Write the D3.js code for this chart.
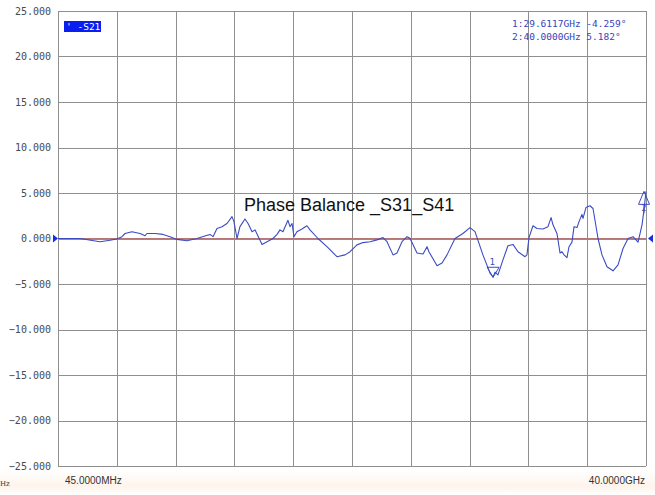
<!DOCTYPE html>
<html>
<head>
<meta charset="utf-8">
<script src="https://cdn.jsdelivr.net/npm/d3@7"></script>
<style>
    body { margin: 0; background: #fff; }
    svg { display: block; }
</style>
</head>
<body>
<div id="chart"></div>
<script>
// trace: frequency (GHz) and phase balance (deg)
const freqGHz = [0.045, 1.54, 2.90, 3.58, 4.05, 4.39, 4.60, 5.07, 5.62, 5.96, 6.09, 6.64, 7.18, 7.66, 8.13, 8.81,
    9.49, 10.03, 10.37, 10.58, 10.85, 11.19, 11.53, 11.87, 12.00, 12.21, 12.41, 12.75, 12.96, 13.23, 13.43, 13.91,
    14.25, 14.65, 14.93, 15.13, 15.33, 15.67, 15.81, 15.95, 16.08, 16.28, 16.62, 16.96, 17.17, 17.71, 18.32, 19.00,
    19.55, 19.89, 20.36, 20.77, 21.25, 21.72, 22.13, 22.40, 22.81, 23.08, 23.42, 23.76, 23.96, 24.44, 24.85, 25.12,
    25.25, 25.80, 26.14, 26.48, 27.02, 27.56, 28.04, 28.38, 28.92, 29.40, 29.61, 29.74, 29.94, 30.28, 30.62, 30.96,
    31.30, 31.78, 31.91, 32.05, 32.32, 32.59, 33.00, 33.34, 33.55, 33.68, 33.95, 34.16, 34.29, 34.43, 34.63, 34.77,
    34.97, 35.11, 35.31, 35.45, 35.65, 35.72, 35.92, 36.19, 36.40, 36.74, 37.01, 37.35, 37.76, 38.10, 38.44, 38.78,
    39.12, 39.46, 39.73, 39.86, 40.00];
const phaseDeg = [0, 0, -0.35, -0.2, -0.05, 0.2, 0.55, 0.75, 0.55, 0.3, 0.55, 0.55, 0.45, 0.2, -0.1, -0.25,
    0, 0.27, 0.45, 0.2, 1.1, 1.3, 1.65, 2.4, 1.85, 0, 1.3, 2.15, 1.65, 0.75, 0.95, -0.65,
    -0.35, 0, 0.45, 0.95, 0.75, 2.0, 1.3, 1.65, 0.2, 0.75, 1.05, 1.4, 0.95, 0, -0.9, -2.0,
    -1.8, -1.45, -0.7, -0.45, -0.35, -0.15, 0.1, -0.35, -1.8, -1.6, -0.35, 0.2, 0.02, -1.6, -1.7, -0.9,
    -1.45, -3.0, -2.7, -1.8, 0, 0.55, 1.2, 0.75, -1.8, -3.8, -4.259, -3.7, -4.0, -2.35, -0.8, -0.65,
    -1.45, -2.0, -1.8, 0.1, 1.4, 1.1, 1.05, 1.3, 2.3, 1.5, 0.55, -1.6, -1.45, -1.8, -2.1, -0.9,
    -0.4, 1.3, 1.2, 1.85, 2.65, 2.2, 3.4, 3.6, 3.3, 0, -1.8, -3.1, -3.55, -2.9, -1.1, 0,
    0.2, -0.4, 1.5, 3.1, 5.182];

const yTicks = [25, 20, 15, 10, 5, 0, -5, -10, -15, -20, -25];
const startLabel = "45.0000MHz";
const stopLabel = "40.0000GHz";
const markers = [
    { id: "1", f: 29.6117, v: -4.259, dir: "down" },
    { id: "2", f: 40.0, v: 5.182, dir: "up" }
];
const markerReadout = ["1:29.6117GHz -4.259\u00b0", "2:40.0000GHz 5.182\u00b0"];
const traceName = "' -S21";
const title = "Phase Balance _S31_S41";

const width = 655, height = 495;
const plot = { left: 58, right: 646, top: 11, bottom: 466 };
const traceColor = "#3b4bc4";
const gridColor = "#8f8f8f";

const svg = d3.select("#chart")
    .append("svg")
    .attr("width", width)
    .attr("height", height);

// faint warm smudge under the screen, as in the photo
const grad = svg.append("defs").append("linearGradient")
    .attr("id", "smudge").attr("x1", 0).attr("x2", 0).attr("y1", 0).attr("y2", 1);
grad.append("stop").attr("offset", "0%").attr("stop-color", "#fff");
grad.append("stop").attr("offset", "65%").attr("stop-color", "#fdf4ec");
grad.append("stop").attr("offset", "100%").attr("stop-color", "#fff");
svg.append("rect")
    .attr("x", 0).attr("y", 470).attr("width", width).attr("height", height - 470)
    .attr("fill", "url(#smudge)");

const x = d3.scaleLinear()
    .domain([freqGHz[0], freqGHz[freqGHz.length - 1]])
    .range([plot.left, plot.right]);

const y = d3.scaleLinear()
    .domain([-25, 25])
    .range([plot.bottom, plot.top]);

// 10 equal divisions across the sweep
const xDivs = d3.range(11).map(i => x.domain()[0] + i * (x.domain()[1] - x.domain()[0]) / 10);

svg.append("g")
    .attr("class", "vgrid")
    .selectAll("line")
    .data(xDivs)
    .enter().append("line")
    .attr("x1", d => Math.round(x(d)) + 0.5)
    .attr("x2", d => Math.round(x(d)) + 0.5)
    .attr("y1", plot.top)
    .attr("y2", plot.bottom)
    .style("stroke", gridColor)
    .style("stroke-width", 1);

svg.append("g")
    .attr("class", "hgrid")
    .selectAll("line")
    .data(yTicks)
    .enter().append("line")
    .attr("x1", plot.left)
    .attr("x2", plot.right)
    .attr("y1", d => Math.round(y(d)) + 0.5)
    .attr("y2", d => Math.round(y(d)) + 0.5)
    .style("stroke", gridColor)
    .style("stroke-width", 1);

// reference line at 0
svg.append("line")
    .attr("x1", plot.left)
    .attr("x2", plot.right)
    .attr("y1", y(0))
    .attr("y2", y(0))
    .style("stroke", "#b47676")
    .style("stroke-width", 1);

// y tick labels
svg.append("g")
    .selectAll("text")
    .data(yTicks)
    .enter().append("text")
    .attr("x", 51)
    .attr("y", d => y(d))
    .attr("dy", "0.35em")
    .attr("text-anchor", "end")
    .style("font-family", "DejaVu Sans Mono, monospace")
    .style("font-size", "10px")
    .style("fill", "#4a4a4a")
    .text(d => (d < 0 ? "\u2212" : "") + Math.abs(d).toFixed(3));

// trace
const line = d3.line()
    .x((d, i) => x(freqGHz[i]))
    .y(d => y(d));

svg.append("path")
    .datum(phaseDeg)
    .attr("d", line)
    .attr("fill", "none")
    .style("stroke", traceColor)
    .style("stroke-width", 1.1)
    .style("stroke-linejoin", "round");

// reference level arrows on both sides
svg.append("path")
    .attr("d", `M${plot.left - 5},${y(0) - 4}L${plot.left},${y(0)}L${plot.left - 5},${y(0) + 4}Z`)
    .attr("fill", "#1a2ee0");
svg.append("path")
    .attr("d", `M${plot.right + 7},${y(0) - 4}L${plot.right + 2},${y(0)}L${plot.right + 7},${y(0) + 4}Z`)
    .attr("fill", "#1a2ee0");

// markers
markers.forEach(m => {
    const mx = x(m.f), my = y(m.v);
    const g = svg.append("g")
        .style("stroke", traceColor)
        .style("fill", "none")
        .style("stroke-width", 1);
    if (m.dir === "down") {
        g.append("path").attr("d", `M${mx - 6},${my - 10}L${mx + 6},${my - 10}L${mx},${my}Z`);
        svg.append("text")
            .attr("x", mx - 1).attr("y", my - 12)
            .attr("text-anchor", "middle")
            .style("font-family", "DejaVu Sans Mono, monospace")
            .style("font-size", "9px")
            .style("fill", traceColor)
            .text(m.id);
    } else {
        const ax = mx - 2;
        g.append("path").attr("d", `M${ax},${my}L${ax + 5.5},${my + 13}L${ax - 5.5},${my + 13}Z`);
        g.append("line").attr("x1", ax).attr("x2", ax).attr("y1", my + 13).attr("y2", my + 22);
        svg.append("text")
            .attr("x", ax).attr("y", my + 20)
            .attr("text-anchor", "middle")
            .style("font-family", "DejaVu Sans Mono, monospace")
            .style("font-size", "8px")
            .style("fill", traceColor)
            .text(m.id);
    }
});

// trace name box
svg.append("rect")
    .attr("x", 64).attr("y", 21).attr("width", 37).attr("height", 11)
    .attr("fill", "#0a1ef0");
svg.append("text")
    .attr("x", 66).attr("y", 30)
    .style("font-family", "DejaVu Sans Mono, monospace")
    .style("font-size", "9.5px")
    .style("fill", "#fff")
    .text(traceName);

// marker readout
svg.append("g")
    .selectAll("text")
    .data(markerReadout)
    .enter().append("text")
    .attr("x", 512)
    .attr("y", (d, i) => 26.5 + i * 13)
    .style("font-family", "DejaVu Sans Mono, monospace")
    .style("font-size", "9.5px")
    .style("fill", "#3444c0")
    .text(d => d);

// title
svg.append("text")
    .attr("x", 244).attr("y", 211)
    .style("font-family", "Liberation Sans, Arial, sans-serif")
    .style("font-size", "18px")
    .style("fill", "#111")
    .text(title);

// start / stop labels
svg.append("text")
    .attr("x", 65).attr("y", 484)
    .style("font-family", "Liberation Sans, Arial, sans-serif")
    .style("font-size", "10px")
    .style("fill", "#333")
    .text(startLabel);
svg.append("text")
    .attr("x", 645).attr("y", 484)
    .attr("text-anchor", "end")
    .style("font-family", "Liberation Sans, Arial, sans-serif")
    .style("font-size", "10px")
    .style("fill", "#333")
    .text(stopLabel);
svg.append("text")
    .attr("x", 0).attr("y", 486)
    .style("font-family", "DejaVu Serif, serif")
    .style("font-size", "7px")
    .style("fill", "#333")
    .text("Hz");
</script>
</body>
</html>
